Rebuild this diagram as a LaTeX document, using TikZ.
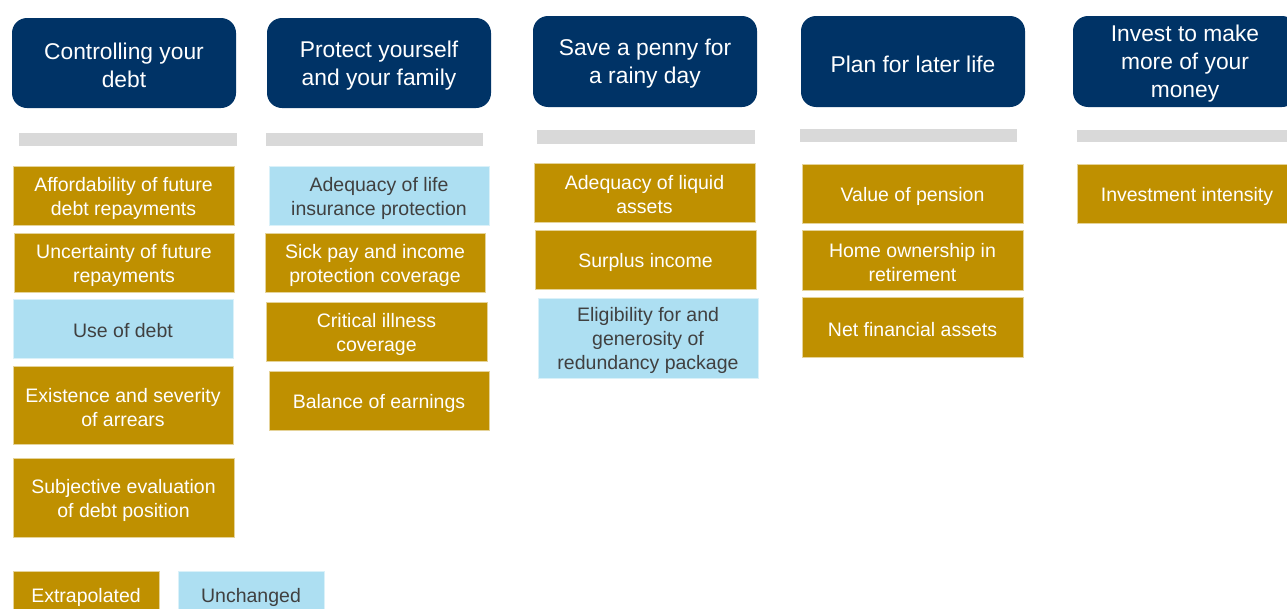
\documentclass[tikz,border=0pt]{standalone}
\usepackage{fontspec}
\setmainfont{Liberation Sans}
\definecolor{navy}{RGB}{0,51,102}
\definecolor{goldc}{RGB}{191,144,0}
\definecolor{lblue}{RGB}{173,223,242}
\definecolor{barg}{RGB}{217,217,217}
\definecolor{dtext}{RGB}{64,64,64}
\newcommand\cellnode[7]{\node[#2, minimum width={#5-#3}, minimum height={#6-#4}] (#1) at ({(#3+#5)/2},{(#4+#6)/2}) {};
  \node[#2 text, yshift=-2.5pt] (#1t) at (#1.center) {#7};}
\tikzset{
  hdr/.style={fill=navy, draw=none, rounded corners=15pt, inner sep=0pt},
  hdr text/.style={text=white, align=center, inner sep=0pt, font=\fontsize{22.8}{28}\selectfont},
  gbox/.style={fill=goldc, draw=goldc!40, line width=0.8pt, inner sep=0pt},
  gbox text/.style={text=white, align=center, inner sep=0pt, font=\fontsize{19.5}{24}\selectfont},
  bbox/.style={fill=lblue, draw=lblue!45, line width=0.8pt, inner sep=0pt},
  bbox text/.style={text=dtext, align=center, inner sep=0pt, font=\fontsize{19.5}{24}\selectfont},
  gbar/.style={fill=barg, draw=none, inner sep=0pt},
  gbar text/.style={inner sep=0pt}
}
\begin{document}
\begin{tikzpicture}[x=1pt,y=-1pt]
\useasboundingbox (0,0) rectangle (1287,608);
% headers
\cellnode{h1}{hdr}{12}{18}{236}{108}{Controlling your\\debt}
\cellnode{h2}{hdr}{267}{18}{491}{108}{Protect yourself\\and your family}
\cellnode{h3}{hdr}{533}{16}{757}{107}{Save a penny for\\a rainy day}
\cellnode{h4}{hdr}{801}{16}{1025}{107}{Plan for later life}
\cellnode{h5}{hdr}{1073}{16}{1297}{107}{Invest to make\\more of your\\money}
% grey bars
\cellnode{g1}{gbar}{19}{133}{237}{146}{}
\cellnode{g2}{gbar}{266}{133}{483}{146}{}
\cellnode{g3}{gbar}{537}{130}{755}{144}{}
\cellnode{g4}{gbar}{800}{129}{1017}{142}{}
\cellnode{g5}{gbar}{1077}{130}{1297}{142}{}
% column 1
\cellnode{a1}{gbox}{13}{166}{234}{225}{Affordability of future\\debt repayments}
\cellnode{a2}{gbox}{14}{233}{234}{292}{Uncertainty of future\\repayments}
\cellnode{a3}{bbox}{13}{299}{233}{358}{Use of debt}
\cellnode{a4}{gbox}{13}{366}{233}{444}{Existence and severity\\of arrears}
\cellnode{a5}{gbox}{13}{458}{234}{537}{Subjective evaluation\\of debt position}
% column 2
\cellnode{b1}{bbox}{269}{166}{489}{225}{Adequacy of life\\insurance protection}
\cellnode{b2}{gbox}{265}{233}{485}{292}{Sick pay and income\\protection coverage}
\cellnode{b3}{gbox}{266}{302}{487}{361}{Critical illness\\coverage}
\cellnode{b4}{gbox}{269}{371}{489}{430}{Balance of earnings}
% column 3
\cellnode{c1}{gbox}{534}{163}{755}{222}{Adequacy of liquid\\assets}
\cellnode{c2}{gbox}{535}{230}{756}{289}{Surplus income}
\cellnode{c3}{bbox}{538}{298}{758}{378}{Eligibility for and\\generosity of\\redundancy package}
% column 4
\cellnode{d1}{gbox}{802}{164}{1023}{223}{Value of pension}
\cellnode{d2}{gbox}{802}{230}{1023}{290}{Home ownership in\\retirement}
\cellnode{d3}{gbox}{802}{297}{1023}{357}{Net financial assets}
% column 5
\cellnode{e1}{gbox}{1077}{164}{1297}{223}{Investment intensity}
% legend
\cellnode{l1}{gbox}{13}{571}{159}{618}{Extrapolated}
\cellnode{l2}{bbox}{178}{571}{324}{618}{Unchanged}
\end{tikzpicture}
\end{document}
